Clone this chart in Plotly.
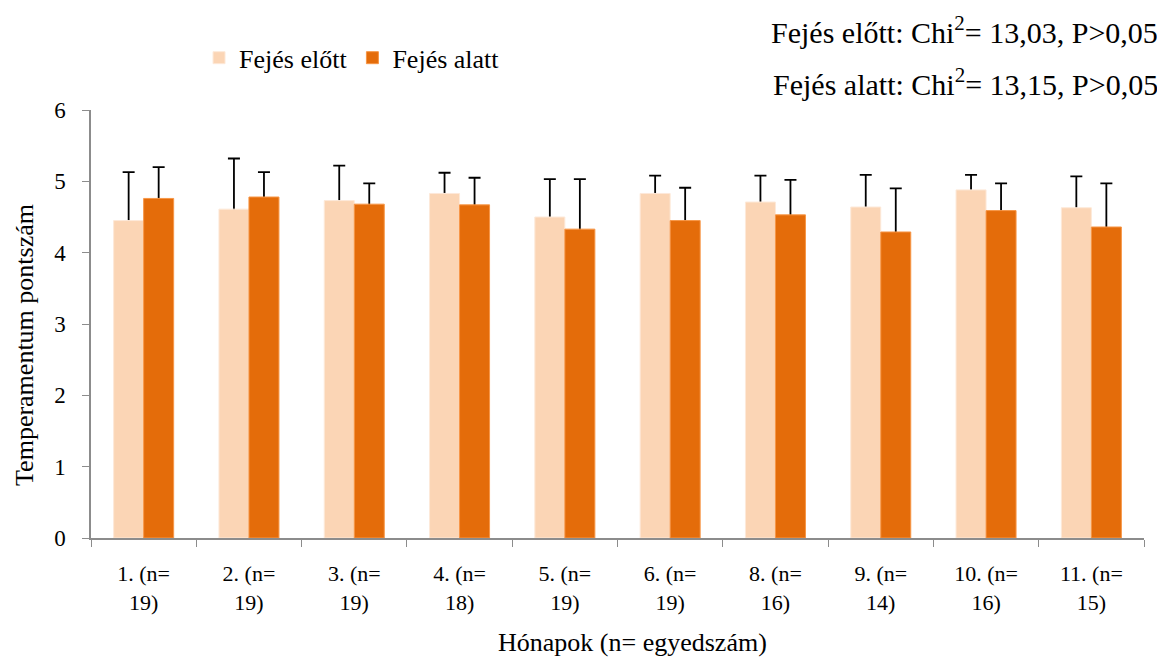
import plotly.graph_objects as go

categories = ["1. (n=<br>19)", "2. (n=<br>19)", "3. (n=<br>19)", "4. (n=<br>18)", "5. (n=<br>19)",
              "6. (n=<br>19)", "8. (n=<br>16)", "9. (n=<br>14)", "10. (n=<br>16)", "11. (n=<br>15)"]
elott = [4.45, 4.61, 4.73, 4.83, 4.50, 4.83, 4.71, 4.64, 4.88, 4.63]
elott_err = [0.68, 0.71, 0.49, 0.29, 0.53, 0.25, 0.37, 0.45, 0.21, 0.44]
alatt = [4.76, 4.78, 4.68, 4.67, 4.33, 4.45, 4.53, 4.29, 4.59, 4.36]
alatt_err = [0.44, 0.35, 0.29, 0.38, 0.70, 0.46, 0.49, 0.61, 0.38, 0.61]
y_ticks = [0, 1, 2, 3, 4, 5, 6]

FONT = "Liberation Serif, Times New Roman, serif"
EPS = 0.035  # error bars start just inside the bar so only the upper whisker shows

fig = go.Figure()
series = [
    ("Fejés előtt", elott, elott_err, "#FBD5B5", "#FDE9D9", "a"),
    ("Fejés alatt", alatt, alatt_err, "#E46C0A", "#F79646", "b"),
]
# invisible carriers for the upper-only error bars (drawn first, hidden under the bars)
for name, vals, errs, col, edge, grp in series:
    fig.add_trace(go.Bar(
        x=categories, y=[v - EPS for v in vals], name=name, showlegend=False,
        offsetgroup=grp, marker=dict(color="rgba(0,0,0,0)", line=dict(width=0)),
        error_y=dict(type="data", array=[e + EPS for e in errs], arrayminus=[0] * len(errs),
                     symmetric=False, color="black", thickness=1.8, width=6),
        hoverinfo="skip",
    ))
for name, vals, errs, col, edge, grp in series:
    fig.add_trace(go.Bar(
        x=categories, y=vals, name=name, offsetgroup=grp,
        marker=dict(color=col, line=dict(color=edge, width=1)),
    ))

# the page body adds an 8px offset; the figure is sized to fill the rest of the window
fig.update_layout(
    width=1157, height=650,
    margin=dict(l=83, r=21, t=102, b=120, autoexpand=False),
    paper_bgcolor="white", plot_bgcolor="white",
    font=dict(family=FONT, size=22, color="black"),
    barmode="group", bargap=0.43, bargroupgap=0,
    showlegend=True,
    legend=dict(orientation="h", x=0.1026, y=1.122, xanchor="left", yanchor="middle",
                font=dict(family=FONT, size=26), itemwidth=30, traceorder="normal",
                bgcolor="rgba(0,0,0,0)"),
    xaxis=dict(
        showline=True, linecolor="#8c8c8c", linewidth=1.5,
        ticks="outside", tickson="boundaries", ticklen=7, tickcolor="#8c8c8c",
        tickfont=dict(family=FONT, size=22), showgrid=False, ticklabelstandoff=15,
    ),
    yaxis=dict(
        range=[0, 6], tickvals=y_ticks, showline=True, linecolor="#8c8c8c", linewidth=1.5,
        ticks="outside", ticklen=7, tickcolor="#8c8c8c", showgrid=False, zeroline=False,
        tickfont=dict(family=FONT, size=23), ticklabelstandoff=12,
    ),
    annotations=[
        dict(text="Temperamentum pontszám", xref="paper", yref="paper",
             x=-0.0627, y=0.451, xanchor="center", yanchor="middle", textangle=-90,
             showarrow=False, font=dict(family=FONT, size=26)),
        dict(text="Hónapok (n= egyedszám)", xref="paper", yref="paper",
             x=0.5138, y=-0.243, xanchor="center", yanchor="middle",
             showarrow=False, font=dict(family=FONT, size=26)),
        dict(text="Fejés előtt: Chi<sup>2</sup>= 13,03, P>0,05", xref="paper", yref="paper",
             x=1.0152, y=1.188, xanchor="right", yanchor="middle", showarrow=False,
             font=dict(family=FONT, size=30)),
        dict(text="Fejés alatt: Chi<sup>2</sup>= 13,15, P>0,05", xref="paper", yref="paper",
             x=1.0152, y=1.066, xanchor="right", yanchor="middle", showarrow=False,
             font=dict(family=FONT, size=30)),
    ],
)

fig.write_html("out.html")
